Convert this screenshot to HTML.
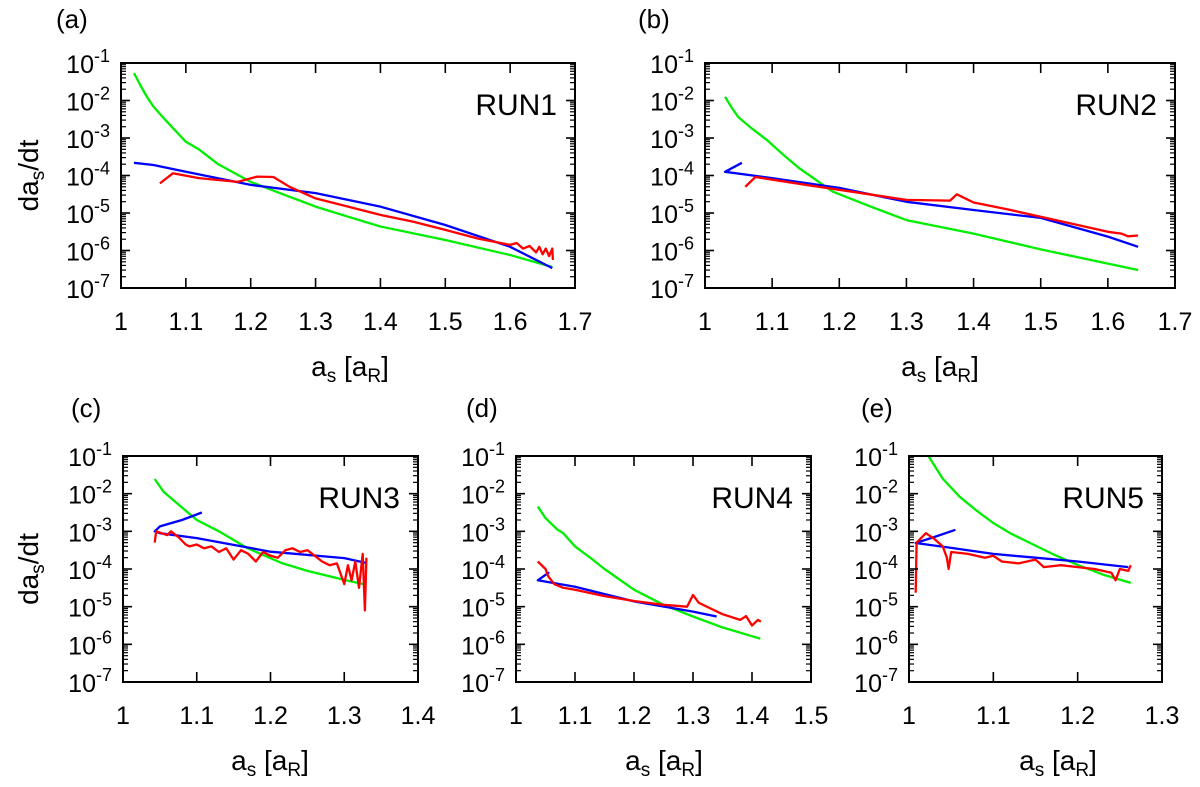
<!DOCTYPE html>
<html><head><meta charset="utf-8"><style>
html,body{margin:0;padding:0;background:#fff}
svg{display:block;font-family:"Liberation Sans",Arial,sans-serif}
</style></head><body>
<svg id="fig" width="1200" height="787" viewBox="0 0 1200 787"></svg>
<script>
// ---- data (x = a_s, value = log10(da_s/dt)) ----
const run1Green=[[1.02,-1.27],[1.03,-1.6],[1.04,-1.9],[1.05,-2.16],[1.07,-2.55],[1.1,-3.1],[1.12,-3.3],[1.15,-3.7],[1.2,-4.17],[1.25,-4.5],[1.3,-4.83],[1.35,-5.1],[1.4,-5.36],[1.5,-5.72],[1.6,-6.12],[1.665,-6.44]];
const run1Blue=[[1.02,-3.66],[1.05,-3.72],[1.1,-3.9],[1.2,-4.25],[1.3,-4.47],[1.4,-4.83],[1.5,-5.32],[1.6,-5.9],[1.665,-6.47]];
const run1Red=[[1.06,-4.21],[1.08,-3.94],[1.12,-4.07],[1.18,-4.17],[1.21,-4.03],[1.235,-4.04],[1.26,-4.3],[1.3,-4.61],[1.35,-4.83],[1.4,-5.05],[1.45,-5.23],[1.5,-5.45],[1.55,-5.68],[1.6,-5.85],[1.61,-5.8],[1.62,-5.95],[1.63,-5.88],[1.64,-6.05],[1.645,-5.9],[1.65,-6.1],[1.655,-5.95],[1.66,-6.15],[1.665,-5.95],[1.666,-6.25]];
const run2Green=[[1.03,-1.9],[1.04,-2.2],[1.05,-2.45],[1.07,-2.75],[1.092,-3.05],[1.12,-3.5],[1.14,-3.8],[1.19,-4.43],[1.25,-4.85],[1.3,-5.19],[1.4,-5.55],[1.5,-5.97],[1.645,-6.52]];
const run2Blue=[[1.055,-3.66],[1.03,-3.9],[1.1,-4.07],[1.2,-4.33],[1.3,-4.7],[1.4,-4.92],[1.5,-5.13],[1.6,-5.63],[1.645,-5.9]];
const run2Red=[[1.06,-4.3],[1.075,-4.04],[1.15,-4.25],[1.2,-4.38],[1.3,-4.65],[1.365,-4.67],[1.375,-4.5],[1.4,-4.72],[1.45,-4.9],[1.5,-5.1],[1.55,-5.3],[1.6,-5.5],[1.62,-5.55],[1.63,-5.62],[1.645,-5.6]];
const run3Green=[[1.043,-1.61],[1.055,-1.95],[1.07,-2.2],[1.085,-2.45],[1.1,-2.7],[1.13,-3.0],[1.168,-3.44],[1.215,-3.84],[1.25,-4.05],[1.3,-4.29],[1.33,-4.42]];
const run3Blue=[[1.107,-2.5],[1.08,-2.7],[1.05,-2.87],[1.043,-3.0],[1.05,-3.05],[1.1,-3.18],[1.2,-3.54],[1.3,-3.71],[1.33,-3.84]];
const run3Red=[[1.043,-3.3],[1.045,-3.0],[1.06,-3.1],[1.065,-3.0],[1.075,-3.15],[1.085,-3.35],[1.09,-3.4],[1.1,-3.35],[1.11,-3.45],[1.12,-3.4],[1.13,-3.55],[1.14,-3.45],[1.15,-3.75],[1.16,-3.5],[1.17,-3.6],[1.18,-3.8],[1.19,-3.55],[1.2,-3.65],[1.21,-3.7],[1.22,-3.5],[1.23,-3.45],[1.24,-3.55],[1.25,-3.5],[1.26,-3.65],[1.27,-3.8],[1.28,-3.9],[1.29,-3.85],[1.3,-4.4],[1.305,-3.9],[1.31,-4.3],[1.315,-3.8],[1.32,-4.5],[1.325,-3.6],[1.328,-5.1],[1.33,-3.7]];
const run4Green=[[1.037,-2.34],[1.05,-2.65],[1.07,-2.95],[1.08,-3.05],[1.1,-3.4],[1.13,-3.75],[1.15,-4.0],[1.2,-4.55],[1.25,-4.95],[1.3,-5.26],[1.35,-5.55],[1.414,-5.85]];
const run4Blue=[[1.037,-4.3],[1.055,-4.1],[1.037,-4.3],[1.1,-4.47],[1.2,-4.86],[1.3,-5.13],[1.34,-5.26]];
const run4Red=[[1.037,-3.8],[1.05,-4.0],[1.055,-4.2],[1.065,-4.4],[1.08,-4.5],[1.1,-4.55],[1.15,-4.72],[1.2,-4.85],[1.25,-4.95],[1.29,-5.0],[1.3,-4.69],[1.31,-4.9],[1.35,-5.2],[1.38,-5.35],[1.39,-5.25],[1.4,-5.5],[1.41,-5.35],[1.415,-5.4]];
const run5Green=[[1.023,-1.0],[1.04,-1.6],[1.06,-2.08],[1.08,-2.45],[1.1,-2.78],[1.12,-3.05],[1.14,-3.27],[1.17,-3.6],[1.2,-3.89],[1.23,-4.15],[1.263,-4.37]];
const run5Blue=[[1.055,-2.96],[1.03,-3.15],[1.008,-3.31],[1.05,-3.44],[1.1,-3.6],[1.15,-3.7],[1.2,-3.8],[1.26,-3.95]];
const run5Red=[[1.008,-4.63],[1.009,-3.3],[1.02,-3.05],[1.03,-3.2],[1.04,-3.4],[1.045,-3.7],[1.047,-4.0],[1.05,-3.55],[1.07,-3.6],[1.09,-3.7],[1.1,-3.65],[1.11,-3.8],[1.13,-3.85],[1.15,-3.75],[1.16,-3.95],[1.18,-3.9],[1.2,-3.95],[1.22,-4.0],[1.24,-4.1],[1.245,-4.3],[1.25,-4.0],[1.26,-4.05],[1.263,-3.9]];
const runNames=["RUN1","RUN2","RUN3","RUN4","RUN5"];
const panelLetters=["(a)","(b)","(c)","(d)","(e)"];
const xMaxes=[1.7,1.7,1.4,1.5,1.3];
const yExps=[-1,-2,-3,-4,-5,-6,-7];

const NS="http://www.w3.org/2000/svg";
const svg=document.getElementById('fig');
function el(tag,attrs,parent){const e=document.createElementNS(NS,tag);for(const k in attrs)e.setAttribute(k,attrs[k]);(parent||svg).appendChild(e);return e;}

const panels=[
 {l:121,r:575,t:63,b:288,series:[run1Green,run1Blue,run1Red],letter:[56,28],ytitle:true,tx:350},
 {l:705,r:1175,t:63,b:288,series:[run2Green,run2Blue,run2Red],letter:[638,28],ytitle:false,tx:940},
 {l:123,r:418,t:456,b:682,series:[run3Green,run3Blue,run3Red],letter:[71,417],ytitle:true,tx:270},
 {l:516,r:811,t:456,b:682,series:[run4Green,run4Blue,run4Red],letter:[466,417],ytitle:false,tx:664},
 {l:909,r:1162,t:456,b:682,series:[run5Green,run5Blue,run5Red],letter:[861,417],ytitle:false,tx:1058}
];
const colors=["#00ee00","#0000ff","#ff0000"];
const sNames=["green-curve","blue-curve","red-curve"];

panels.forEach((p,i)=>{
  const g=el('g',{});
  
  
  const xs=v=>p.l+(v-1)/(xMaxes[i]-1)*(p.r-p.l);
  const ys=v=>p.t+(-1-v)/6*(p.b-p.t);
  const cid='clip'+i;
  const cp=el('clipPath',{id:cid},g);el('rect',{x:p.l,y:p.t,width:p.r-p.l,height:p.b-p.t},cp);
  p.series.forEach((s,k)=>{
    const d=s.map((pt,j)=>(j?'L':'M')+xs(pt[0]).toFixed(1)+' '+ys(pt[1]).toFixed(1)).join(' ');
    const path=el('path',{d:d,fill:'none',stroke:colors[k],'stroke-width':2.3,'stroke-linejoin':'round','clip-path':'url(#'+cid+')'},g);
    
    
  });
  const fr=el('rect',{x:p.l,y:p.t,width:p.r-p.l,height:p.b-p.t,fill:'none',stroke:'#000','stroke-width':2},g);
  
  
  yExps.forEach(e=>{
    const y=ys(e);
    el('line',{x1:p.l,x2:p.l+9,y1:y,y2:y,stroke:'#000','stroke-width':1.6},g);
    el('line',{x1:p.r,x2:p.r-9,y1:y,y2:y,stroke:'#000','stroke-width':1.6},g);
    if(e>-7){for(let m=2;m<=9;m++){const ym=ys(e-1+Math.log10(m));
      el('line',{x1:p.l,x2:p.l+5,y1:ym,y2:ym,stroke:'#000','stroke-width':1.2},g);
      el('line',{x1:p.r,x2:p.r-5,y1:ym,y2:ym,stroke:'#000','stroke-width':1.2},g);}}
    const t=el('text',{x:p.l-11,y:y+10,'font-size':25,'text-anchor':'end',fill:'#000'},g);
    
    
    t.textContent='10';
    const sp=el('tspan',{'font-size':18,dy:-11},t);sp.textContent=String(e);
  });
  const n=Math.round((xMaxes[i]-1)*10);
  for(let j=0;j<=n;j++){
    const v=1+j/10,x=xs(v);
    if(j>0&&j<n){el('line',{x1:x,x2:x,y1:p.b,y2:p.b-10,stroke:'#000','stroke-width':1.6},g);
      el('line',{x1:x,x2:x,y1:p.t,y2:p.t+10,stroke:'#000','stroke-width':1.6},g);}
    const t=el('text',{x:x,y:p.b+42,'font-size':25,'text-anchor':'middle',fill:'#000'},g);
    
    
    t.textContent=j===0?'1':v.toFixed(1);
  }
  const rl=el('text',{x:p.r-18,y:p.t+52,'font-size':30,'text-anchor':'end',fill:'#000'},g);
  
  
  rl.textContent=runNames[i];
  const pl=el('text',{x:p.letter[0],y:p.letter[1],'font-size':26,fill:'#000'},g);
  
  
  pl.textContent=panelLetters[i];
  const xt=el('text',{x:p.tx,y:p.b+88,'font-size':28,'text-anchor':'middle',fill:'#000'},g);
  
  
  xt.appendChild(document.createTextNode('a'));
  const s1=el('tspan',{'font-size':19,dy:6},xt);s1.textContent='s';
  const s2=el('tspan',{dy:-6},xt);s2.textContent=' [a';
  const s3=el('tspan',{'font-size':19,dy:6},xt);s3.textContent='R';
  const s4=el('tspan',{dy:-6},xt);s4.textContent=']';
  if(p.ytitle){
    const cy=(p.t+p.b)/2;
    const yt=el('text',{x:0,y:0,'font-size':28,'text-anchor':'middle',fill:'#000',transform:'translate(38,'+cy+') rotate(-90)'},g);
    
    
    yt.appendChild(document.createTextNode('da'));
    const a=el('tspan',{'font-size':19,dy:6},yt);a.textContent='s';
    const b=el('tspan',{dy:-6},yt);b.textContent='/dt';
  }
});
</script>
</body></html>
